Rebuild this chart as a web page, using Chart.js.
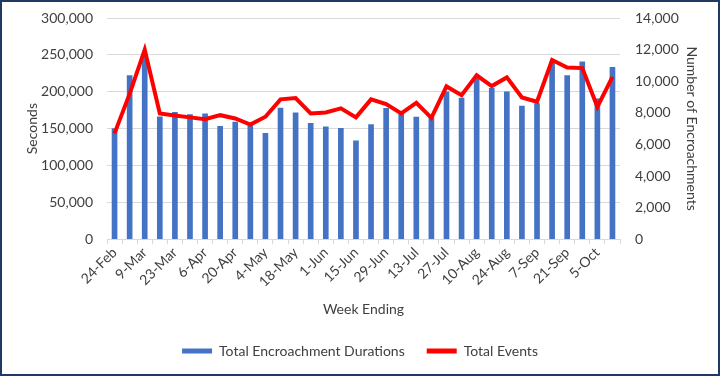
<!DOCTYPE html>
<html>
<head>
<meta charset="utf-8">
<script src="https://cdn.jsdelivr.net/npm/chart.js@4"></script>
<style>
  html, body { margin: 0; padding: 0; background: #fff; }
  #wrap {
    width: 720px; height: 376px; box-sizing: border-box;
    border: 2px solid #1f3864; background: #fff;
  }
  canvas { display: block; }
</style>
</head>
<body>
<div id="wrap"><canvas id="myChart" width="716" height="372"></canvas></div>
<script>
// week ending dates
const weeks = ['24-Feb', '2-Mar', '9-Mar', '16-Mar', '23-Mar', '30-Mar', '6-Apr', '13-Apr', '20-Apr', '27-Apr',
  '4-May', '11-May', '18-May', '25-May', '1-Jun', '8-Jun', '15-Jun', '22-Jun', '29-Jun', '6-Jul',
  '13-Jul', '20-Jul', '27-Jul', '3-Aug', '10-Aug', '17-Aug', '24-Aug', '31-Aug', '7-Sep', '14-Sep',
  '21-Sep', '28-Sep', '5-Oct', '12-Oct'];

// seconds (bars, left axis)
const durations = [150000, 222000, 249000, 166000, 172000, 169000, 170000, 153000, 159000, 154000,
  143500, 178000, 171500, 157000, 152500, 150500, 133500, 155500, 177500, 170500,
  165500, 165000, 200000, 191500, 219000, 204500, 200000, 180500, 184000, 240500,
  222000, 240500, 190500, 233000];

// count (line, right axis)
const events = [6700, 9200, 12000, 7960, 7830, 7710, 7600, 7850, 7640, 7260,
  7750, 8850, 8930, 7960, 8020, 8280, 7710, 8850, 8550, 7960,
  8630, 7680, 9670, 9120, 10370, 9690, 10240, 8970, 8700, 11340,
  10870, 10830, 8380, 10280];

const fontFamily = 'Lato, "Open Sans", sans-serif';
const textColor = '#404040';
const gridColor = '#d9d9d9';

function fmt(v) {
  return Number(v).toLocaleString('en-US');
}

// fixed axis widths, and no extra top/bottom room from tick padding
function fixWidth(w) {
  return (scale) => {
    scale.width = w;
    scale.paddingTop = 0;
    scale.paddingBottom = 0;
  };
}

function initChart(target) {
  const data = {
    labels: weeks,
    datasets: [
      {
        type: 'line',
        label: 'Total Events',
        data: events,
        yAxisID: 'y1',
        borderColor: '#ff0000',
        backgroundColor: '#ff0000',
        borderWidth: 4,
        pointRadius: 0,
        tension: 0,
        order: 0
      },
      {
        type: 'bar',
        label: 'Total Encroachment Durations',
        data: durations,
        yAxisID: 'y',
        backgroundColor: '#4472c4',
        borderWidth: 0,
        barThickness: 5,
        order: 1
      }
    ]
  };

  const config = {
    data: data,
    options: {
      responsive: false,
      animation: false,
      layout: { padding: { top: 16, left: 14, right: 14, bottom: 6 } },
      plugins: {
        legend: {
          position: 'bottom',
          reverse: true,
          labels: {
            color: textColor,
            font: { family: fontFamily, size: 14 },
            boxWidth: 30,
            boxHeight: 5,
            padding: 22,
            generateLabels: (chart) => {
              const items = Chart.defaults.plugins.legend.labels.generateLabels(chart);
              items.forEach((item) => { item.lineWidth = 0; });
              return items;
            }
          }
        },
        tooltip: { enabled: false }
      },
      scales: {
        x: {
          grid: { offset: true, drawOnChartArea: false, tickLength: 5, color: gridColor },
          border: { color: gridColor },
          ticks: {
            color: textColor,
            font: { family: fontFamily, size: 14 },
            autoSkip: false,
            maxRotation: 45,
            minRotation: 45,
            padding: 0,
            callback: (val, i) => (i % 2 === 0 ? weeks[i] : '')
          },
          title: {
            display: true,
            text: 'Week Ending',
            color: textColor,
            font: { family: fontFamily, size: 14 },
            padding: { top: 11, bottom: 4 }
          }
        },
        y: {
          position: 'left',
          min: 0,
          max: 300000,
          afterFit: fixWidth(91),
          grid: { color: gridColor, drawTicks: false },
          border: { display: false },
          ticks: {
            stepSize: 50000,
            color: textColor,
            font: { family: fontFamily, size: 14 },
            padding: 14,
            callback: (v) => fmt(v)
          },
          title: {
            display: true,
            text: 'Seconds',
            color: textColor,
            font: { family: fontFamily, size: 14 },
            padding: { top: 8, bottom: 0 }
          }
        },
        y1: {
          position: 'right',
          min: 0,
          max: 14000,
          afterFit: fixWidth(84),
          grid: { drawOnChartArea: false, drawTicks: false },
          border: { display: false },
          ticks: {
            stepSize: 2000,
            color: textColor,
            font: { family: fontFamily, size: 14 },
            padding: 15,
            callback: (v) => fmt(v)
          },
          title: {
            display: true,
            text: 'Number of Encroachments',
            color: textColor,
            font: { family: fontFamily, size: 14 },
            padding: { top: 4, bottom: 0 }
          }
        }
      }
    }
  };

  return new Chart(target, config);
}

document.addEventListener('DOMContentLoaded', () => {
  initChart(document.querySelector('#myChart'));
});
</script>
</body>
</html>
